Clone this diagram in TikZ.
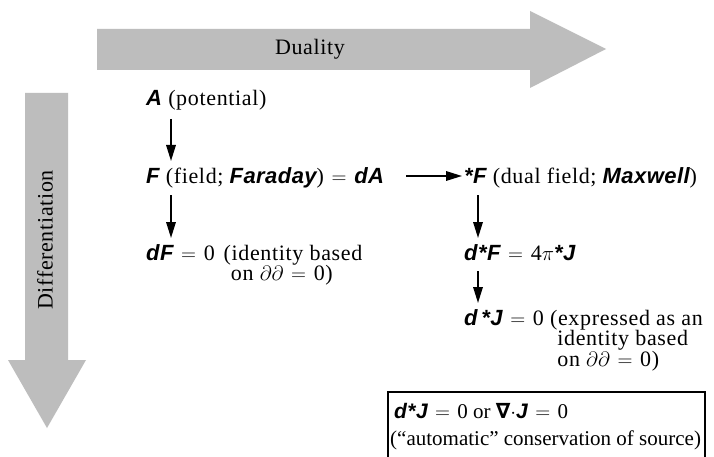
\documentclass[tikz,border=0pt]{standalone}
\usepackage{fontspec}
\setmainfont{Liberation Serif}[LetterSpace=3]
\newfontfamily\plainser{Liberation Serif}
\newfontfamily\bsifont{Liberation Sans}[LetterSpace=2]
\newfontfamily\djvfont{DejaVu Sans}
\usetikzlibrary{arrows.meta,calc}
\newcommand\bsv[1]{{\bsifont\bfseries\itshape #1}}
\newcommand\eqs{\hspace{0.35em}$=$\hspace{0.35em}}
\begin{document}
\begin{tikzpicture}[x=1pt,y=-1pt,
  font=\fontsize{22}{19}\selectfont,
  lbl/.style={anchor=base west, inner sep=0pt},
  arr/.style={line width=1.7pt, -{Triangle[length=16pt,width=9.5pt]}},
  bigarrow/.style={fill=black!26, draw=none}]
\useasboundingbox (0,0) rectangle (714,457);
\fill[white] (0,0) rectangle (714,457);

% shaded arrows
\fill[bigarrow] (97,29) -- (530,29) -- (530,11) -- (606,49) -- (530,88) -- (530,70) -- (97,70) -- cycle;
\node (dual) at (310,49) {Duality};
\fill[bigarrow] (25,93) -- (68,93) -- (68,360) -- (86,360) -- (47,428) -- (8,360) -- (25,360) -- cycle;
\node[rotate=90] (diff) at (45,240) {Differentiation};

% coordinates for vertical arrows
\coordinate (cL) at (171,0);
\coordinate (cR) at (478,0);

% left column
\node[lbl] (nA) at (146,106) {\bsv{A} (potential)};
\node[lbl] (nF) at (146,183) {\bsv{F} (field; \bsv{Faraday})\eqs\bsv{dA}};
\node[lbl] (ndF) at (146,260) {\bsv{dF}\eqs 0\hspace{0.4em}(identity based};
\node[lbl] (ndF2) at ($(ndF.base west)+(0,20.5)$) {\phantom{\bsv{dF}\eqs 0\hspace{0.4em}(}on $\partial\partial$\eqs 0)};

% right column
\node[lbl] (nSF) at (464,183) {\bsv{*F} (dual field; \bsv{Maxwell})};
\node[lbl] (ndSF) at (464,260) {\bsv{d*F}\eqs 4$\pi$\bsv{*J}};
\node[lbl] (ndSJ) at (464,325) {\bsv{d\,*J}\eqs 0\ (expressed as an};
\node[lbl] (ndSJ2) at ($(ndSJ.base west)+(0,20.5)$) {\phantom{\bsv{d\,*J}\eqs 0\ (}identity based};
\node[lbl] (ndSJ3) at ($(ndSJ2.base west)+(0,20.5)$) {\phantom{\bsv{d\,*J}\eqs 0\ (}on $\partial\partial$\eqs 0)};

% arrows
\draw[arr] ($(nA.base -| cL)+(0,13)$) -- ($(nF.base -| cL)+(0,-22)$);
\draw[arr] ($(nF.base -| cL)+(0,12)$) -- ($(ndF.base -| cL)+(0,-22)$);
\draw[arr] ($(nSF.base -| cR)+(0,12)$) -- ($(ndSF.base -| cR)+(0,-22)$);
\draw[arr] ($(ndSF.base -| cR)+(0,11)$) -- ($(ndSJ.base -| cR)+(0,-22)$);
\draw[arr] ([xshift=22pt,yshift=7pt]nF.base east) -- ([xshift=-2pt,yshift=7pt]nSF.base west);

% box (bottom edge cut off)
\coordinate (bTL) at (388,392);
\coordinate (bTR) at (705,392);
\coordinate (bBL) at (388,457);
\coordinate (bBR) at (705,457);
\draw[line width=1.2pt] (bBL) -- (bTL) -- (bTR) -- (bBR);
\node[lbl,font=\fontsize{21}{19}\plainser] (nb1) at (394,418) {\bsv{d*J}\eqs 0 or {\djvfont\bfseries ∇}$\cdot$\bsv{J}\eqs 0};
\node[lbl,font=\fontsize{21}{19}\plainser] (nb2) at (390,445) {(“automatic” conservation of source)};
\end{tikzpicture}
\end{document}
